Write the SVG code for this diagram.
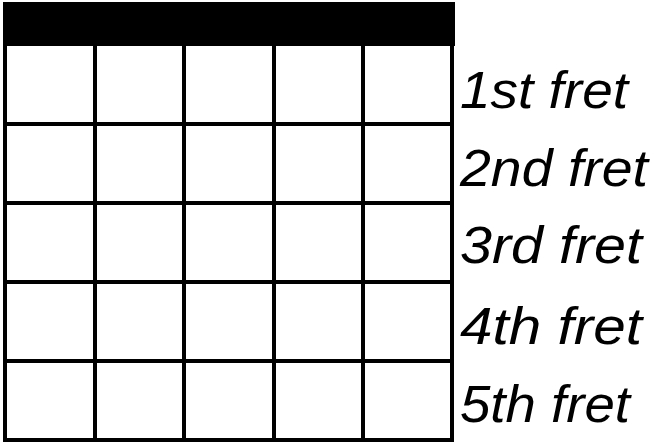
<svg xmlns="http://www.w3.org/2000/svg" width="656" height="444" viewBox="0 0 656 444">
<style>
.g{stroke:#000;stroke-width:4;fill:none;stroke-linecap:square}
.t{font-family:"Liberation Sans","DejaVu Sans",sans-serif;font-style:italic;font-size:52px;fill:#000}
</style>
<rect width="656" height="444" fill="#fff"/>
<g id="nut"><rect x="3" y="2" width="452" height="44" fill="#000"/></g>
<g id="grid" class="g">
<line x1="5" y1="45" x2="5" y2="440"/>
<line x1="95" y1="45" x2="95" y2="440"/>
<line x1="184" y1="45" x2="184" y2="440"/>
<line x1="274" y1="45" x2="274" y2="440"/>
<line x1="363" y1="45" x2="363" y2="440"/>
<line x1="452" y1="45" x2="452" y2="440"/>
<line x1="5" y1="124" x2="452" y2="124"/>
<line x1="5" y1="203" x2="452" y2="203"/>
<line x1="5" y1="282" x2="452" y2="282"/>
<line x1="5" y1="361" x2="452" y2="361"/>
<line x1="5" y1="440" x2="452" y2="440"/>
</g>
<g id="labels">
<text class="t" x="460" y="108" textLength="168" lengthAdjust="spacingAndGlyphs">1st fret</text>
<text class="t" x="460" y="186" textLength="188" lengthAdjust="spacingAndGlyphs">2nd fret</text>
<text class="t" x="460" y="263" textLength="182" lengthAdjust="spacingAndGlyphs">3rd fret</text>
<text class="t" x="460" y="344" textLength="182" lengthAdjust="spacingAndGlyphs">4th fret</text>
<text class="t" x="460" y="422" textLength="170" lengthAdjust="spacingAndGlyphs">5th fret</text>
</g>
</svg>
